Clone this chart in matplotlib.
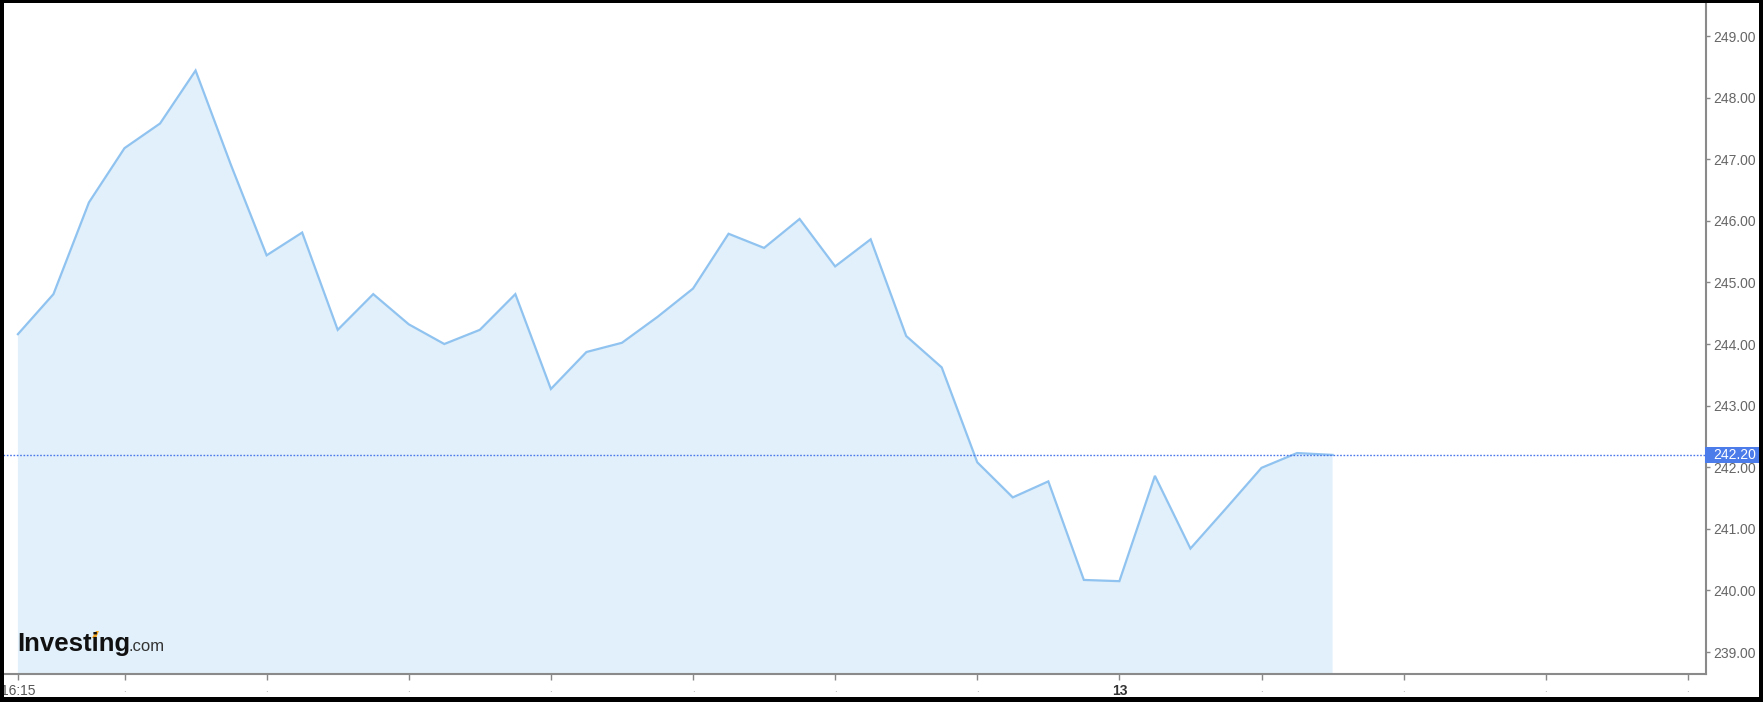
import matplotlib
matplotlib.use("Agg")
import matplotlib.pyplot as plt
import matplotlib.dates as mdates
from matplotlib.patches import Rectangle, Polygon
from matplotlib.transforms import blended_transform_factory
import pandas as pd

# ---- data ----
start_time = "2024-03-12 16:15"
prices = [244.16, 244.81, 246.30, 247.18, 247.58, 248.44, 246.90, 245.44, 245.81,
          244.23, 244.81, 244.32, 244.00, 244.23, 244.81, 243.27, 243.87, 244.02,
          244.44, 244.90, 245.79, 245.56, 246.03, 245.26, 245.70, 244.13, 243.62,
          242.08, 241.51, 241.77, 240.17, 240.15, 241.86, 240.68, 241.33, 241.99,
          242.23, 242.20]
last_price = 242.20
y_ticks = [239, 240, 241, 242, 243, 244, 245, 246, 247, 248, 249]
x_tick_times = ["16:15", "17:00", "18:00", "19:00", "20:00", "21:00", "22:00",
                "23:00", "00:00", "01:00", "02:00", "03:00", "04:00"]
x_tick_labels = ["16:15", ".", ".", ".", ".", ".", ".", ".", "13", ".", ".", ".", "."]

times = pd.date_range(start_time, periods=len(prices), freq="15min")
tick_dates = []
day = pd.Timestamp(start_time).normalize()
for t in x_tick_times:
    ts = pd.Timestamp(day.strftime("%Y-%m-%d") + " " + t)
    if ts < pd.Timestamp(start_time):
        ts += pd.Timedelta(days=1)
    tick_dates.append(ts)

W, H = 1763, 702
fig = plt.figure(figsize=(W / 100, H / 100), dpi=100)
fig.patch.set_facecolor("white")

ax_l, ax_r, ax_t, ax_b = 3, 1706, 3, 674
ax = fig.add_axes([ax_l / W, (H - ax_b) / H, (ax_r - ax_l) / W, (ax_b - ax_t) / H])

x = mdates.date2num(times)
step = 15 / 1440.0
ax.fill_between(x, prices, 0, color="#e1f0fa", linewidth=0, zorder=1)
ax.plot(x, prices, color="#90c3f0", linewidth=1.6, zorder=3, solid_joinstyle="miter")

ax.axhline(last_price, color="#4a78ea", linewidth=1.0, linestyle=(0, (1.2, 1.2)), zorder=4)

ax.set_xlim(x[0] - 0.42 * step, x[0] + 47.51 * step)
ax.set_ylim(238.643, 249.536)

ax.yaxis.tick_right()
ax.set_yticks(y_ticks)
ax.set_yticklabels([f"{v:.2f}" for v in y_ticks])
ax.tick_params(axis="y", direction="out", length=3, width=1, color="#888888",
               pad=2, labelsize=10, labelcolor="#666666")
for lab in ax.get_yticklabels():
    lab.set_family(["Liberation Sans", "DejaVu Sans"])

ax.set_xticks(mdates.date2num(tick_dates))
ax.set_xticklabels(x_tick_labels)
ax.tick_params(axis="x", direction="out", length=4, width=1, color="#888888",
               pad=3, labelsize=10, labelcolor="#555555")
for lab in ax.get_xticklabels():
    lab.set_family(["Liberation Sans", "DejaVu Sans"])
    if lab.get_text() == ".":
        lab.set_fontsize(7)
        lab.set_color("#999999")
    elif lab.get_text() == "13":
        lab.set_color("#333333")
        lab.set_fontweight("bold")

for s in ["left", "top"]:
    ax.spines[s].set_visible(False)
for s in ["right", "bottom"]:
    ax.spines[s].set_color("#8a8a8a")
    ax.spines[s].set_linewidth(1.5)

# current price box
tr = blended_transform_factory(fig.transFigure, ax.transData)
box_h = 16 / 61.6
ax.add_patch(Rectangle((1705 / W, last_price - box_h / 2), (W - 1705) / W, box_h,
                       transform=tr, facecolor="#4c7bea", edgecolor="none",
                       clip_on=False, zorder=6))
ax.text(1713 / W, last_price, f"{last_price:.2f}", transform=tr, color="white",
        fontsize=10, ha="left", va="center", zorder=7, clip_on=False,
        family=["Liberation Sans", "DejaVu Sans"])

# logo
fig.text(17 / W, (H - 651) / H, "Investing", fontsize=18.5, fontweight="bold",
         color="#111111", family=["Liberation Sans", "DejaVu Sans"],
         ha="left", va="baseline")
fig.text(128 / W, (H - 651) / H, ".com", fontsize=12, color="#333333",
         family=["Liberation Sans", "DejaVu Sans"], ha="left", va="baseline")
px = lambda a, b: (a / W, (H - b) / H)
fig.add_artist(Polygon([px(92, 638), px(96, 631), px(99, 631), px(96, 638)],
                       closed=True, transform=fig.transFigure,
                       facecolor="#f5a623", edgecolor="none"))

# outer black frame
for (x0, y0, w, h) in [(0, 0, 4, H), (W - 4, 0, 4, H), (0, 0, W, 3), (0, H - 5, W, 5)]:
    fig.add_artist(Rectangle((x0 / W, (H - y0 - h) / H), w / W, h / H,
                             transform=fig.transFigure, facecolor="black",
                             edgecolor="none", zorder=10))

fig.savefig("out.png", dpi=100, facecolor="white")
